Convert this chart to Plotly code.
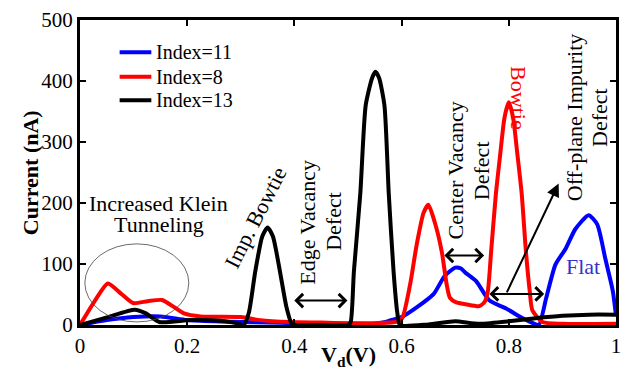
import plotly.graph_objects as go

# Drain voltage sweep (V) and current (nA) for the three index values
vd_11 = [0.0, 0.05, 0.10, 0.15, 0.20, 0.25, 0.30, 0.35, 0.40, 0.45, 0.50, 0.55, 0.57, 0.58, 0.60,
         0.63, 0.66, 0.68, 0.70, 0.71, 0.72, 0.739, 0.764, 0.795, 0.826, 0.845, 0.856, 0.87, 0.887,
         0.906, 0.924, 0.949, 0.965, 0.98, 0.994, 1.0]
cur_11 = [0, 8, 13, 14, 8, 6, 5, 4, 3, 2, 2, 2, 5, 8, 13,
          30, 51, 80, 94, 93, 85, 72, 40, 27, 11, 3, 0, 45, 99,
          125, 157, 180, 165, 109, 56, 15]

vd_8 = [0.0, 0.028, 0.052, 0.077, 0.099, 0.126, 0.153, 0.176, 0.194, 0.225, 0.30, 0.336, 0.391,
        0.45, 0.50, 0.55, 0.59, 0.601, 0.616, 0.628, 0.641, 0.65, 0.662, 0.675, 0.684, 0.69, 0.702,
        0.72, 0.745, 0.755, 0.761, 0.767, 0.776, 0.784, 0.792, 0.80, 0.808, 0.816, 0.824, 0.832,
        0.839, 0.844, 0.863, 0.90, 1.0]
cur_8 = [0, 40, 68, 51, 36, 39, 41, 29, 19, 14, 13, 8, 5,
         4, 3, 3, 5, 11, 67, 131, 184, 197, 168, 120, 67, 45, 37,
         34, 31, 38, 56, 120, 216, 280, 340, 365, 340, 280, 216, 120,
         56, 24, 5, 2, 2]

vd_13 = [0.0, 0.052, 0.102, 0.123, 0.148, 0.206, 0.262, 0.292, 0.305, 0.315, 0.327, 0.34, 0.35,
         0.36, 0.373, 0.385, 0.395, 0.40, 0.45, 0.50, 0.505, 0.511, 0.523, 0.533, 0.545, 0.551,
         0.558, 0.568, 0.576, 0.585, 0.592, 0.597, 0.65, 0.70, 0.73, 0.75, 0.80, 0.85, 0.90, 0.95, 1.0]
cur_13 = [0, 13, 25, 19, 5, 8, 7, 3, 0, 20, 88, 145, 160,
          145, 88, 30, 2, 0, 0, 0, 5, 88, 216, 360, 405, 415,
          405, 360, 216, 88, 20, 0, 1, 6, 3, 2, 6, 11, 15, 17, 17]

series_names = ["Index=11", "Index=8", "Index=13"]
series_colors = ["#0000ff", "#ff0000", "#000000"]

x_ticks = [0, 0.2, 0.4, 0.6, 0.8, 1.0]
x_tick_text = ["0", "0.2", "0.4", "0.6", "0.8", "1"]
y_ticks = [0, 100, 200, 300, 400, 500]

FONT = "Liberation Serif"
PLOT_H = 377 - 13 - 52

fig = go.Figure()
for xs, ys, name, color in zip([vd_11, vd_8, vd_13], [cur_11, cur_8, cur_13],
                               series_names, series_colors):
    fig.add_trace(go.Scatter(
        x=xs, y=ys, name=name, mode="lines", showlegend=False,
        line=dict(color=color, width=4, shape="spline", smoothing=0.6),
    ))

# Text labels (x, y, text, angle, color, size)
labels = [
    (0.146, 200, "Increased Klein", 0, "black", 22),
    (0.148, 164, "Tunneling", 0, "black", 22),
    (0.327, 177, "Imp. Bowtie", -63, "black", 22),
    (0.425, 169, "Edge Vacancy", -90, "black", 22),
    (0.473, 170, "Defect", -90, "black", 22),
    (0.701, 253, "Center Vacancy", -90, "black", 22),
    (0.749, 253, "Defect", -90, "black", 22),
    (0.924, 341, "Off-plane Impurity", -90, "black", 22),
    (0.970, 341, "Defect", -90, "black", 22),
    (0.819, 372, "Bowtie", 90, "#ff0000", 22),
    (0.939, 96, "Flat", 0, "#3333cc", 22),
]
annotations = []
for x, y, t, ang, col, sz in labels:
    annotations.append(dict(
        x=x, y=y, xref="x", yref="y", text=t, showarrow=False,
        textangle=ang, xanchor="center", yanchor="middle",
        font=dict(family=FONT, size=sz, color=col),
    ))

# Double-headed range arrows: (x_start, x_end, y)
ranges = [(0.397, 0.499, 40), (0.677, 0.754, 114), (0.761, 0.866, 51)]
for x0, x1, y in ranges:
    annotations.append(dict(
        x=x1, y=y, ax=x0, ay=y, xref="x", yref="y", axref="x", ayref="y",
        text="", showarrow=True, arrowhead=4, startarrowhead=4, arrowside="end+start",
        arrowsize=1.3, startarrowsize=1.3, arrowwidth=2, arrowcolor="black",
        standoff=0, startstandoff=0,
    ))
# Pointer to the off-plane impurity label
annotations.append(dict(
    x=0.893, y=232, ax=0.795, ay=51, xref="x", yref="y", axref="x", ayref="y",
    text="", showarrow=True, arrowhead=2, arrowsize=1.3, arrowwidth=2,
    arrowcolor="black", standoff=0,
))

# Axis titles
annotations.append(dict(
    x=0.5, y=-0.103, xref="paper", yref="paper", text="<b>V<sub>d</sub>(V)</b>",
    showarrow=False, xanchor="center", yanchor="middle",
    font=dict(family=FONT, size=22, color="black"),
))
annotations.append(dict(
    x=-0.092, y=0.5, xref="paper", yref="paper", text="<b>Current (nA)</b>",
    showarrow=False, textangle=-90, xanchor="center", yanchor="middle",
    font=dict(family=FONT, size=22, color="black"),
))

# Legend: short line samples with the series names beside them
shapes = [dict(type="circle", xref="x", yref="y", x0=0.009, x1=0.203, y0=5, y1=133,
               line=dict(color="#444444", width=0.8))]
legend_rows_px = [46, 71, 95]
for name, color, ypx in zip(series_names, series_colors, legend_rows_px):
    yp = 1 - (ypx - 13) / PLOT_H
    shapes.append(dict(type="line", xref="paper", yref="paper",
                       x0=(120 - 80) / 541, x1=(152 - 80) / 541, y0=yp, y1=yp,
                       line=dict(color=color, width=4)))
    annotations.append(dict(
        x=(155 - 80) / 541, y=yp, xref="paper", yref="paper", text=name,
        showarrow=False, xanchor="left", yanchor="middle",
        font=dict(family=FONT, size=20, color="black"),
    ))

axis_common = dict(
    showline=True, linewidth=3, linecolor="black", mirror="ticks",
    ticks="inside", ticklen=6, tickwidth=2, tickcolor="black",
    showgrid=False, zeroline=False,
    tickfont=dict(family=FONT, size=21, color="black"),
)

fig.update_layout(
    width=629, height=377,
    margin=dict(l=80, r=8, t=13, b=52),
    paper_bgcolor="white", plot_bgcolor="white",
    xaxis=dict(range=[0, 1], tickvals=x_ticks, ticktext=x_tick_text, **axis_common),
    yaxis=dict(range=[0, 500], tickvals=y_ticks, **axis_common),
    shapes=shapes,
    annotations=annotations,
    showlegend=False,
)

fig.write_html("out.html")
